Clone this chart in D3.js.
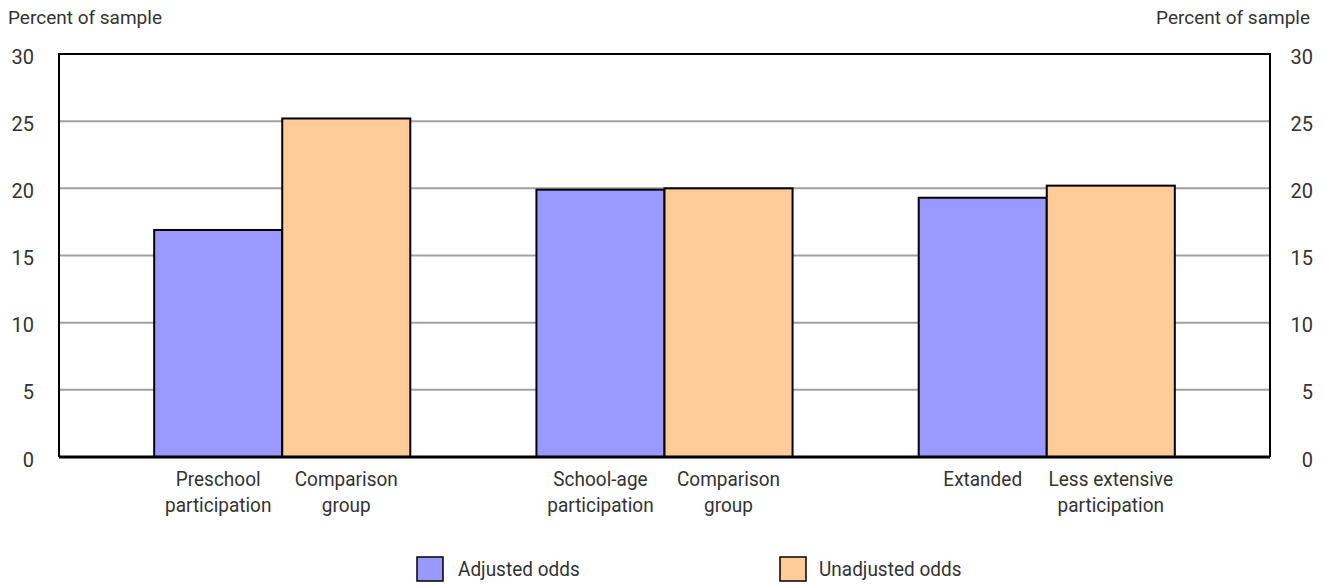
<!DOCTYPE html>
<html>
<head>
<meta charset="utf-8">
<script src="https://cdn.jsdelivr.net/npm/d3@7"></script>
<style>
  body { margin: 0; background: #fff; }
  svg text { font-family: "Roboto", sans-serif; fill: #333; }
</style>
</head>
<body>
<div id="chart"></div>
<script>
// data
var groups = ["Preschool", "School-age", "Extended"];
var series = ["Adjusted odds", "Unadjusted odds"];
var adjusted = [16.9, 19.9, 19.3];
var unadjusted = [25.2, 20.0, 20.2];
var barLabels = [
  ["Preschool", "participation"], ["Comparison", "group"],
  ["School-age", "participation"], ["Comparison", "group"],
  ["Extanded"], ["Less extensive", "participation"]
];
var yTicks = [0, 5, 10, 15, 20, 25, 30];
var colors = ["#9999ff", "#ffcc99"];

var width = 1325, height = 585;
var margin = { top: 54, right: 55, bottom: 128, left: 59 };
var squeeze = 0.95; // the original font is a bit narrower

var svg = d3.select("#chart").append("svg")
  .attr("width", width)
  .attr("height", height);

var x = d3.scaleBand()
  .domain(groups)
  .range([margin.left, width - margin.right])
  .paddingInner(0.33)
  .paddingOuter(0.249);

var xs = d3.scaleBand()
  .domain(series)
  .range([0, x.bandwidth()]);

var y = d3.scaleLinear()
  .domain([0, 30])
  .range([height - margin.bottom, margin.top]);

// gridlines
svg.append("g")
  .selectAll("line")
  .data(yTicks.filter(d => d > 0 && d < 30))
  .enter()
  .append("line")
  .attr("x1", margin.left)
  .attr("x2", width - margin.right)
  .attr("y1", d => y(d))
  .attr("y2", d => y(d))
  .attr("stroke", "#a0a0a0")
  .attr("stroke-width", 2);

// bars
var rows = [];
groups.forEach(function(g, i) {
  rows.push({ group: g, s: series[0], val: adjusted[i], k: 0 });
  rows.push({ group: g, s: series[1], val: unadjusted[i], k: 1 });
});

svg.append("g")
  .selectAll("rect")
  .data(rows)
  .enter()
  .append("rect")
  .attr("x", d => x(d.group) + xs(d.s))
  .attr("y", d => y(d.val))
  .attr("width", xs.bandwidth())
  .attr("height", d => y(0) - y(d.val))
  .attr("fill", d => colors[d.k])
  .attr("stroke", "#000")
  .attr("stroke-width", 2);

// frame
svg.append("path")
  .attr("d", "M" + margin.left + "," + y(0) + "V" + y(30) + "H" + (width - margin.right) + "V" + y(0))
  .attr("fill", "none")
  .attr("stroke", "#000")
  .attr("stroke-width", 2);
svg.append("line")
  .attr("x1", margin.left)
  .attr("x2", width - margin.right)
  .attr("y1", y(0))
  .attr("y2", y(0))
  .attr("stroke", "#000")
  .attr("stroke-width", 3);

// y axes (left and right)
var leftAxis = d3.axisLeft(y).tickValues(yTicks).tickSize(0).tickPadding(25);
var rightAxis = d3.axisRight(y).tickValues(yTicks).tickSize(0).tickPadding(22);

var gl = svg.append("g").attr("transform", "translate(" + margin.left + ",0)").call(leftAxis);
gl.select(".domain").remove();
gl.attr("font-family", null);
gl.selectAll("text").style("font-size", "20px").attr("dy", "0.45em");

var gr = svg.append("g").attr("transform", "translate(" + (width - margin.right) + ",0)").call(rightAxis);
gr.select(".domain").remove();
gr.attr("font-family", null);
gr.selectAll("text").style("font-size", "20px").attr("dy", "0.45em")
  .attr("text-anchor", "end")
  .attr("x", 43);

// axis titles
svg.append("text")
  .attr("x", 8).attr("y", 24)
  .style("font-size", "19px")
  .text("Percent of sample");
svg.append("text")
  .attr("x", 1310).attr("y", 24)
  .attr("text-anchor", "end")
  .style("font-size", "19px")
  .text("Percent of sample");

// category labels under each bar
var lab = svg.append("g")
  .selectAll("text")
  .data(rows)
  .enter()
  .append("text")
  .attr("text-anchor", "middle")
  .attr("transform", d => "translate(" + (x(d.group) + xs(d.s) + xs.bandwidth() / 2) + ",486) scale(" + squeeze + ",1)")
  .style("font-size", "20px");
lab.each(function(d, i) {
  var t = d3.select(this);
  barLabels[i].forEach(function(line, j) {
    t.append("tspan")
      .attr("x", 0)
      .attr("dy", j === 0 ? 0 : 26)
      .text(line);
  });
});

// legend
var legendX = [417, 780];
var legend = svg.append("g")
  .selectAll("g")
  .data(series)
  .enter()
  .append("g")
  .attr("transform", (d, i) => "translate(" + legendX[i] + ",557)");
legend.append("rect")
  .attr("width", 26)
  .attr("height", 24)
  .attr("fill", (d, i) => colors[i])
  .attr("stroke", "#000")
  .attr("stroke-width", 1.5);
legend.append("text")
  .attr("transform", (d, i) => "translate(" + (i === 0 ? 41 : 39) + ",19) scale(" + squeeze + ",1)")
  .style("font-size", "20px")
  .text(d => d);
</script>
</body>
</html>
